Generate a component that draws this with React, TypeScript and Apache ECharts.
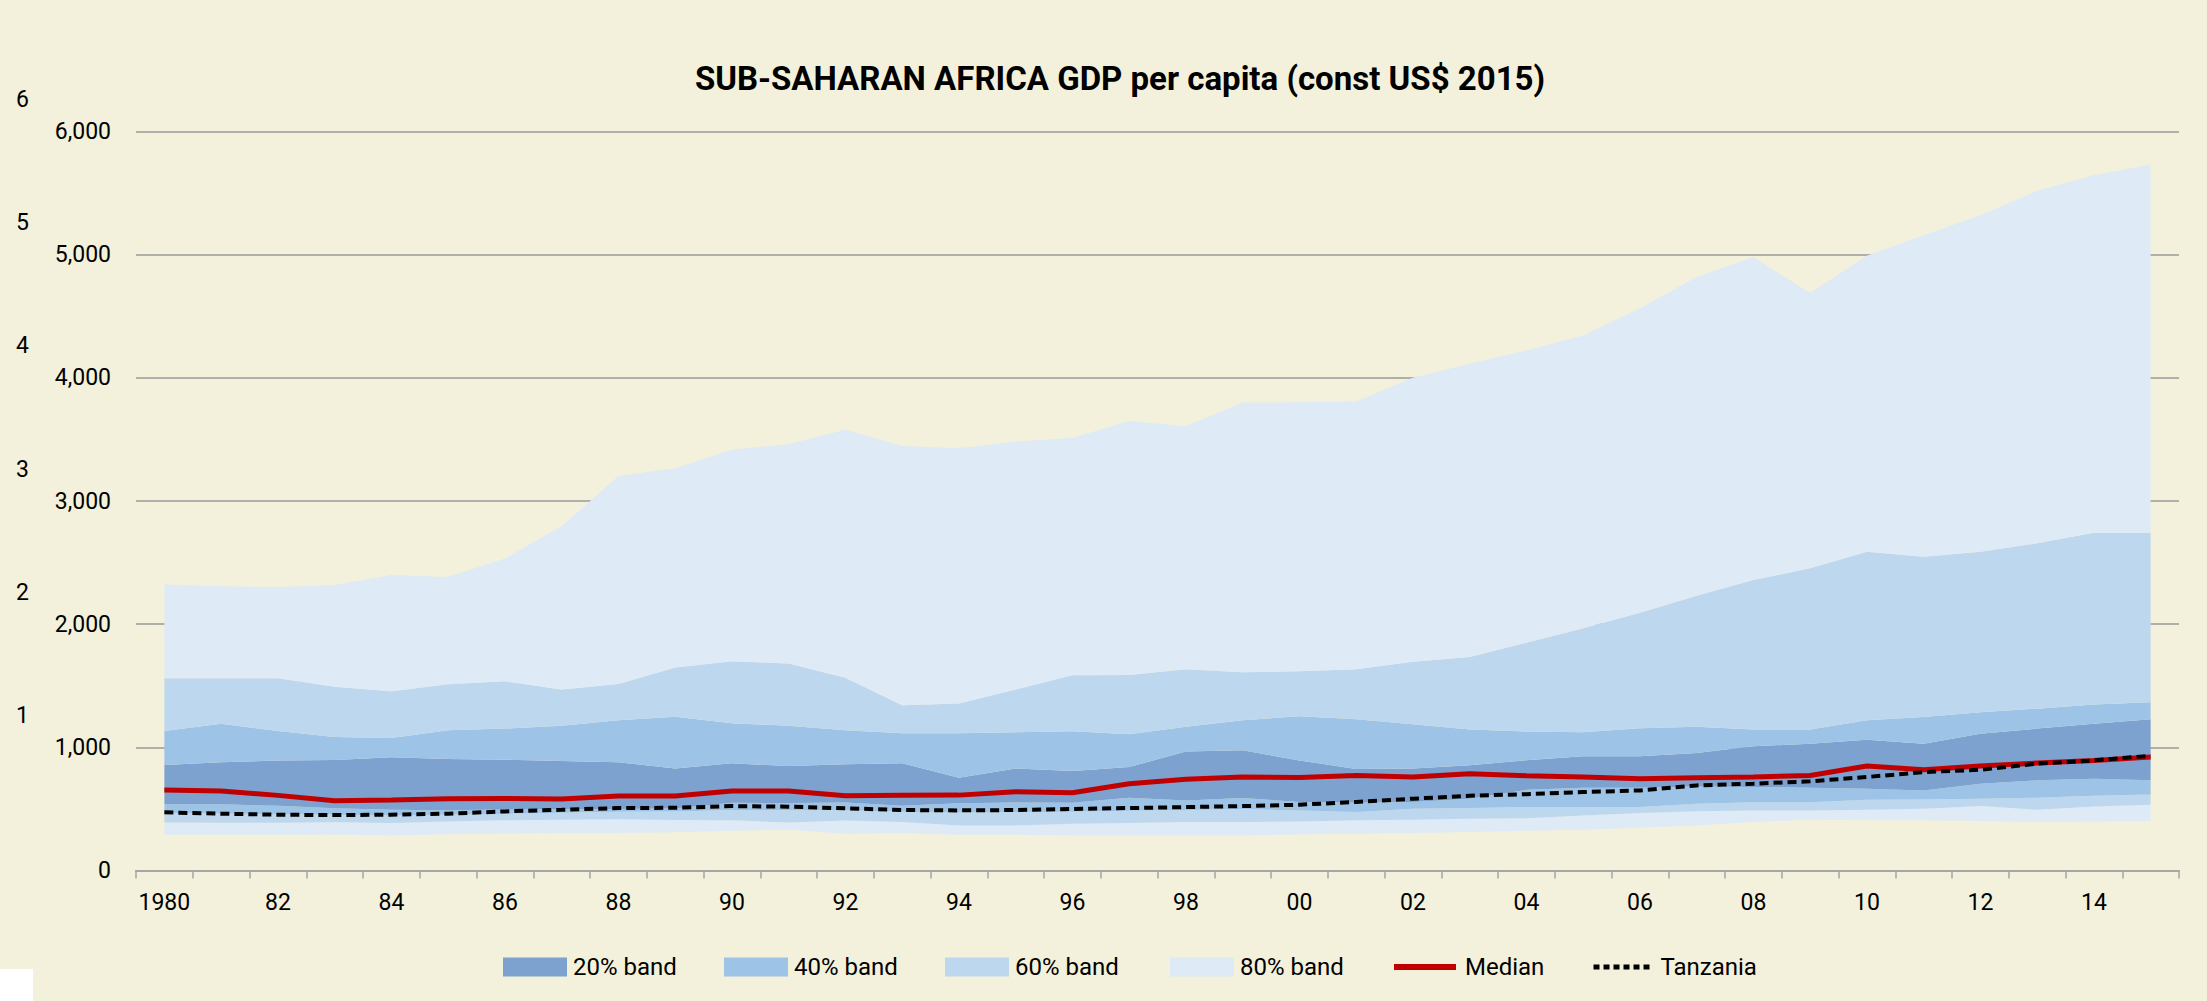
import React, { useEffect, useRef } from "react";
import * as echarts from "echarts";

const years = [
  "1980", "1981", "1982", "1983", "1984", "1985", "1986", "1987", "1988", "1989",
  "1990", "1991", "1992", "1993", "1994", "1995", "1996", "1997", "1998", "1999",
  "2000", "2001", "2002", "2003", "2004", "2005", "2006", "2007", "2008", "2009",
  "2010", "2011", "2012", "2013", "2014", "2015",
];

// percentile boundaries (const US$ 2015)
const p10 = [290, 290, 290, 292, 285, 295, 300, 303, 305, 310, 322, 331, 298, 304, 290, 290, 285, 285, 285, 285, 293, 298, 304, 312, 322, 331, 347, 366, 393, 412, 407, 407, 401, 393, 398, 401];
const p20 = [390, 388, 388, 392, 386, 398, 407, 412, 416, 410, 407, 390, 405, 393, 366, 366, 379, 385, 393, 393, 398, 407, 412, 420, 425, 447, 466, 482, 488, 488, 493, 501, 523, 493, 520, 534];
const p30 = [464, 462, 458, 452, 448, 452, 460, 468, 476, 480, 492, 490, 490, 478, 470, 472, 478, 486, 492, 500, 488, 474, 501, 507, 515, 515, 515, 542, 555, 555, 575, 577, 583, 591, 607, 618];
const p40 = [537, 537, 525, 506, 493, 490, 496, 496, 500, 504, 550, 548, 552, 526, 545, 553, 550, 590, 569, 588, 556, 550, 556, 583, 655, 672, 672, 683, 678, 672, 664, 650, 705, 732, 745, 732];
const p60 = [856, 878, 894, 897, 919, 905, 900, 889, 878, 829, 870, 848, 863, 870, 753, 829, 808, 840, 967, 976, 894, 824, 829, 854, 895, 927, 927, 954, 1008, 1030, 1062, 1030, 1111, 1152, 1192, 1228];
const p70 = [1133, 1192, 1133, 1084, 1076, 1138, 1152, 1176, 1220, 1249, 1195, 1176, 1138, 1114, 1114, 1122, 1130, 1106, 1168, 1220, 1252, 1228, 1187, 1144, 1128, 1122, 1154, 1168, 1144, 1144, 1220, 1247, 1284, 1314, 1347, 1366];
const p80 = [1561, 1561, 1561, 1491, 1455, 1512, 1537, 1469, 1515, 1648, 1699, 1680, 1565, 1341, 1355, 1469, 1585, 1588, 1634, 1610, 1618, 1634, 1694, 1734, 1850, 1967, 2092, 2230, 2358, 2453, 2588, 2547, 2588, 2656, 2743, 2743];
const p90 = [2322, 2308, 2302, 2319, 2400, 2383, 2534, 2795, 3202, 3266, 3417, 3463, 3579, 3446, 3428, 3483, 3512, 3649, 3607, 3799, 3802, 3808, 4000, 4114, 4222, 4344, 4564, 4818, 4981, 4688, 4992, 5157, 5320, 5518, 5645, 5732];
const median = [653, 645, 610, 566, 572, 583, 585, 580, 604, 604, 645, 645, 606, 610, 612, 640, 631, 705, 740, 759, 756, 772, 759, 786, 770, 759, 745, 753, 759, 772, 848, 818, 848, 873, 894, 921];
const tanzania = [472, 461, 453, 450, 453, 461, 480, 493, 507, 509, 523, 518, 505, 491, 488, 491, 499, 507, 515, 523, 534, 556, 583, 607, 620, 637, 650, 691, 705, 724, 759, 799, 818, 867, 894, 932];

const yTicks = [0, 1000, 2000, 3000, 4000, 5000, 6000];
const ghostLabels = ["6", "5", "4", "3", "2", "1"];
const legendNames = ["20% band", "40% band", "60% band", "80% band", "Median", "Tanzania"];
const titleText = "SUB-SAHARAN AFRICA GDP per capita (const US$ 2015)";

const C20 = "#7DA2CF";
const C40 = "#9DC3E6";
const C60 = "#BDD7EE";
const C80 = "#DEEAF6";
const BG = "#F3F1DB";
const FONT = "Roboto, 'Noto Sans', sans-serif";

const diff = (a: number[], b: number[]) => a.map((v, i) => v - b[i]);

export default function App() {
  const ref = useRef<HTMLDivElement>(null);
  useEffect(() => {
    if (!ref.current) return;
    const chart = echarts.init(ref.current, undefined, { renderer: "svg" });

    const band = (name: string, data: number[], color: string) => ({
      name,
      type: "line",
      stack: "bands",
      data,
      symbol: "none",
      color,
      itemStyle: { color },
      lineStyle: { width: 0, color },
      areaStyle: { color, opacity: 1 },
      z: 2,
    });

    const hiddenSymbol = { color: "rgba(0,0,0,0)", borderWidth: 0, opacity: 0 };
    const legendLefts = [498, 719, 940, 1165, 1386, 1586];
    const legendItems = [
      { name: legendNames[0], icon: "rect" },
      { name: legendNames[1], icon: "rect" },
      { name: legendNames[2], icon: "rect" },
      { name: legendNames[3], icon: "rect" },
      { name: legendNames[4], itemStyle: hiddenSymbol, lineStyle: { width: 6, color: "#C00000" } },
      {
        name: legendNames[5],
        itemStyle: hiddenSymbol,
        lineStyle: { width: 5, color: "#000", type: [6, 4] },
      },
    ];
    const legends = legendItems.map((d, i) => ({
      left: legendLefts[i],
      top: 950,
      itemWidth: i < 4 ? 64 : i === 4 ? 62 : 58,
      itemHeight: 19,
      itemGap: 6,
      selectedMode: false,
      textStyle: { fontFamily: FONT, fontSize: 24, color: "#000", padding: [0, 0, 0, i < 4 ? 1 : 4] },
      data: [d],
    }));

    const gridTop = 131.5;
    const gridBottomY = 870.5;
    const step = (gridBottomY - gridTop) / 6;

    chart.setOption({
      animation: false,
      backgroundColor: BG,
      grid: { left: 136, right: 28, top: gridTop, bottom: 1001 - gridBottomY, containLabel: false },
      legend: legends,
      xAxis: {
        type: "category",
        data: years,
        boundaryGap: true,
        axisLine: { show: true, lineStyle: { color: "#A6A6A6", width: 2 } },
        axisTick: { show: true, interval: 0, length: 8, lineStyle: { color: "#A6A6A6", width: 1.5 } },
        axisLabel: {
          interval: 1,
          margin: 20,
          fontFamily: FONT,
          fontSize: 23,
          color: "#000",
          formatter: (v: string) => (v === "1980" ? v : v.slice(2)),
        },
        splitLine: { show: false },
      },
      yAxis: {
        type: "value",
        min: yTicks[0],
        max: yTicks[yTicks.length - 1],
        interval: 1000,
        axisLine: { show: false },
        axisTick: { show: false },
        axisLabel: {
          margin: 25,
          fontFamily: FONT,
          fontSize: 23,
          color: "#000",
          formatter: (v: number) => v.toLocaleString("en-US"),
        },
        splitLine: { show: true, lineStyle: { color: "#9A9A9A", width: 1.5 } },
      },
      series: [
        {
          name: "base",
          type: "line",
          stack: "bands",
          data: p10,
          symbol: "none",
          lineStyle: { width: 0 },
          areaStyle: { opacity: 0 },
          z: 2,
        },
        band("80% band lower", diff(p20, p10), C80),
        band("60% band lower", diff(p30, p20), C60),
        band("40% band lower", diff(p40, p30), C40),
        band("20% band", diff(p60, p40), C20),
        band("40% band", diff(p70, p60), C40),
        band("60% band", diff(p80, p70), C60),
        band("80% band", diff(p90, p80), C80),
        {
          name: "Median",
          type: "line",
          data: median,
          symbol: "none",
          color: "#C00000",
          lineStyle: { color: "#C00000", width: 5 },
          z: 5,
        },
        {
          name: "Tanzania",
          type: "line",
          data: tanzania,
          symbol: "none",
          color: "#000000",
          lineStyle: { color: "#000000", width: 4, type: [9, 5], cap: "butt" },
          z: 6,
        },
      ],
      graphic: [
        {
          type: "text",
          x: 1120,
          y: 78,
          style: {
            text: titleText,
            fontFamily: FONT,
            fontWeight: "bold",
            fontSize: 33,
            fill: "#000",
            textAlign: "center",
            textVerticalAlign: "middle",
          },
        },
        ...ghostLabels.map((t, i) => ({
          type: "text",
          x: 16,
          y: gridTop + i * step - 32,
          style: {
            text: t,
            fontFamily: FONT,
            fontSize: 23,
            fill: "#000",
            textAlign: "left",
            textVerticalAlign: "middle",
          },
        })),
        {
          type: "rect",
          shape: { x: 0, y: 969, width: 33, height: 32 },
          style: { fill: "#FFFFFF" },
        },
      ],
    });
    return () => chart.dispose();
  }, []);
  return (
    <div
      ref={ref}
      style={{ position: "fixed", left: 0, top: 0, width: "2207px", height: "1001px" }}
    />
  );
}
